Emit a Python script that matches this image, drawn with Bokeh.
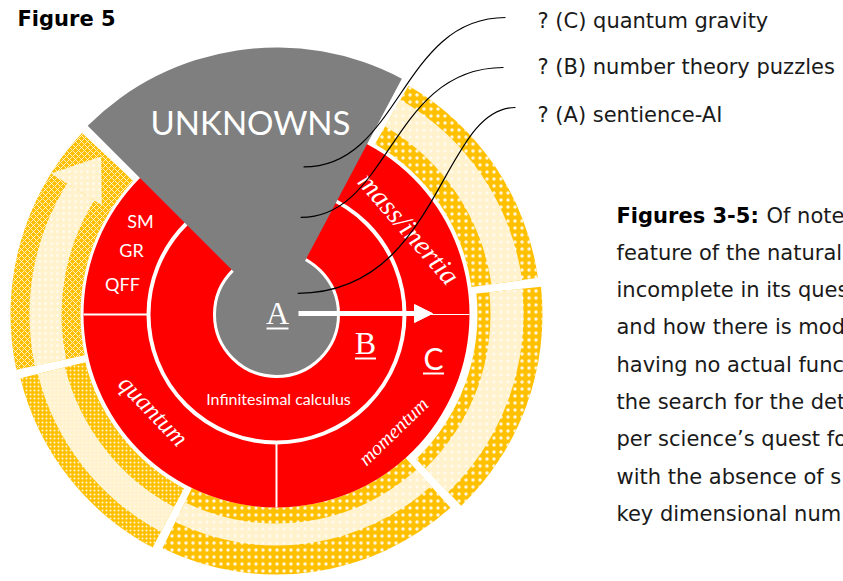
import numpy as np
from bokeh.plotting import figure
from bokeh.models import Range1d, Arrow, NormalHead
from bokeh.embed import file_html
from bokeh.resources import INLINE
from bokeh.core.properties import value

W, H = 843, 581
PAGE_H = 581


def Y(s):
    return PAGE_H - s


CX, CY = 276, Y(314)

# ---------------- data ----------------
ring_labels = ["A", "B", "C"]
ring_outer = [62, 128, 193]
unknown_span = [62, 135]
unknown_radius = 267
divider_angles = [180, 270]
yellow_start = [137, 194, 244, 314, 368]
yellow_end = [192, 242, 312, 366, 420]
yellow_inner = [196, 197, 193, 201, 197]
yellow_outer = [266, 264, 260, 266, 264]
light_inner = [215, 218, 209, 214, 217]
light_outer = [247, 246, 231, 247, 248]
yellow_hatch = ["diagonal_cross", "dot", "dot", "dot", "dot"]
yellow_scale = [6, 4, 7, 7, 7]

sector_texts = ["mass/inertia", "quantum", "momentum"]
sector_text_r = [158, 156, 165]
sector_text_ang = [33, 218, 315]
sector_text_rot = [-49, -46, 44]
sector_text_size = ["28px", "25px", "20px"]

theory_labels = ["SM", "GR", "QFF"]
unknown_labels = ["? (C) quantum gravity", "? (B) number theory puzzles", "? (A) sentience-AI"]
callout_r = [150, 100, 30]
callout_ang = [79.6, 76, 45]

caption_lines = [
    "feature of the natural",
    "incomplete in its ques",
    "and how there is mod",
    "having no actual func",
    "the search for the det",
    "per science\u2019s quest fo",
    "with the absence of s",
    "key dimensional num",
]

YELLOW = "#FFC000"
LIGHT = "#FFF2CC"
RED = "#FF0000"
GRAY = "#7F7F7F"


def pol(r, a):
    a = np.radians(a)
    return CX + r * np.cos(a), CY + r * np.sin(a)


p = figure(width=W, height=H, x_range=Range1d(0, W), y_range=Range1d(PAGE_H - H, PAGE_H),
           output_backend="svg", toolbar_location=None, x_axis_type=None, y_axis_type=None,
           min_border=0)
p.grid.visible = False
p.outline_line_color = None
p.background_fill_color = "white"
p.border_fill_color = "white"

# ---- yellow outer segments ----
for i in range(len(yellow_start)):
    p.annular_wedge(x=CX, y=CY, inner_radius=yellow_inner[i], outer_radius=yellow_outer[i],
                    start_angle=np.radians(yellow_start[i]), end_angle=np.radians(yellow_end[i]),
                    fill_color=YELLOW, line_color=None,
                    hatch_pattern=yellow_hatch[i], hatch_color="white", hatch_scale=yellow_scale[i],
                    hatch_weight=0.9, hatch_alpha=0.85)
    s0 = yellow_start[i] + (11 if i == 0 else 0)
    p.annular_wedge(x=CX, y=CY, inner_radius=light_inner[i], outer_radius=light_outer[i],
                    start_angle=np.radians(s0), end_angle=np.radians(yellow_end[i]),
                    fill_color=LIGHT, line_color=None,
                    hatch_pattern="dot", hatch_color="white", hatch_scale=yellow_scale[i],
                    hatch_weight=0.9, hatch_alpha=0.6)

# arrow head of the first (left) segment
hx0, hy0 = pol(206, yellow_start[0] + 11)
hx1, hy1 = pol(266, yellow_start[0] + 11)
hx2, hy2 = pol(236, yellow_start[0] + 1)
p.patch(x=[hx0, hx1, hx2], y=[hy0, hy1, hy2], fill_color=LIGHT, line_color=None,
        hatch_pattern="dot", hatch_color="white", hatch_scale=6, hatch_weight=0.9, hatch_alpha=0.6)

# ---- red rings ----
p.circle(x=CX, y=CY, radius=ring_outer[2], fill_color=RED, line_color=None)
p.circle(x=CX, y=CY, radius=ring_outer[1], fill_color=None, line_color="white", line_width=4)
for a in divider_angles:
    x0, y0 = pol(ring_outer[1], a)
    x1, y1 = pol(ring_outer[2], a)
    p.segment(x0=x0, y0=y0, x1=x1, y1=y1, line_color="white", line_width=2)
x0, y0 = pol(ring_outer[1], 0)
x1, y1 = pol(ring_outer[2], 0)
p.segment(x0=x0, y0=y0, x1=x1, y1=y1, line_color="white", line_width=1)

# ---- gray core + unknown wedge ----
p.circle(x=CX, y=CY, radius=ring_outer[0], fill_color=GRAY, line_color="white", line_width=3)
p.wedge(x=CX, y=CY, radius=unknown_radius, start_angle=np.radians(unknown_span[0]),
        end_angle=np.radians(unknown_span[1]), fill_color=GRAY, line_color=None)

# ---- arrow A -> C ----
p.add_layout(Arrow(end=NormalHead(size=18, fill_color="white", line_color="white"),
                   x_start=CX + 22, y_start=CY + 1, x_end=CX + 156, y_end=CY + 1,
                   line_color="white", line_width=5))

# ---- texts in the diagram ----
p.text(x=[250], y=[Y(121)], text=["UNKNOWNS"], text_font=value("Lato"), text_font_size="33px",
       text_color="white", text_align="center", text_baseline="middle")

tx = [140, 131, 122]
ty = [Y(220), Y(249), Y(283)]
p.text(x=tx, y=ty, text=theory_labels, text_font=value("Lato"), text_font_size="18px",
       text_color="white", text_align="center", text_baseline="middle")

p.text(x=[CX + 2], y=[Y(398)], text=["Infinitesimal calculus"], text_font=value("Lato"),
       text_font_size="16px", text_color="white", text_align="center", text_baseline="middle")

for t, r, a, rot, fs in zip(sector_texts, sector_text_r, sector_text_ang, sector_text_rot, sector_text_size):
    x, y = pol(r, a)
    p.text(x=[x], y=[y], text=[t], angle=np.radians(rot), text_font=value("Liberation Serif"),
           text_font_style="italic", text_font_size=fs, text_color="white",
           text_align="center", text_baseline="middle")

# ring letters
lab_x = [277, 365, 433]
lab_y = [Y(312), Y(342), Y(357)]
lab_font = ["Liberation Serif", "Liberation Serif", "Lato"]
lab_size = ["32px", "32px", "30px"]
for t, x, y, f, s, w in zip(ring_labels, lab_x, lab_y, lab_font, lab_size, [22, 21, 21]):
    p.text(x=[x], y=[y], text=[t], text_font=value(f), text_font_size=s, text_color="white",
           text_align="center", text_baseline="middle")
    p.segment(x0=x - w / 2, y0=y - 16, x1=x + w / 2, y1=y - 16, line_color="white", line_width=2)

# ---- callouts ----
lbl_y = [Y(20), Y(66), Y(114)]
start_x = [505, 503, 515]
start_y = [Y(17), Y(67), Y(107)]
ctrl_x = [400, 390, 440]
for i in range(3):
    ex, ey = pol(callout_r[i], callout_ang[i])
    p.bezier(x0=start_x[i], y0=start_y[i], x1=ex, y1=ey, cx0=ctrl_x[i], cy0=start_y[i],
             cx1=ctrl_x[i], cy1=ey, line_color="black", line_width=1.2)
p.text(x=[537] * 3, y=lbl_y, text=unknown_labels, text_font=value("DejaVu Sans"),
       text_font_size="21px", text_color="#1a1a1a", text_align="left", text_baseline="middle")

# ---- title + caption ----
p.text(x=[17], y=[Y(18)], text=["Figure 5"], text_font=value("DejaVu Sans"), text_font_style="bold",
       text_font_size="21px", text_color="black", text_align="left", text_baseline="middle")

p.text(x=[616], y=[Y(215)], text=["Figures 3-5:"], text_font=value("DejaVu Sans"),
       text_font_style="bold", text_font_size="21px", text_color="black",
       text_align="left", text_baseline="middle")
p.text(x=[766], y=[Y(215)], text=["Of note"], text_font=value("DejaVu Sans"),
       text_font_size="21px", text_color="#1a1a1a", text_align="left", text_baseline="middle")
cap_y = [Y(215 + 37.3 * (i + 1)) for i in range(len(caption_lines))]
p.text(x=[616] * len(caption_lines), y=cap_y, text=caption_lines, text_font=value("DejaVu Sans"),
       text_font_size="21px", text_color="#1a1a1a", text_align="left", text_baseline="middle")

open("out.html", "w").write(file_html(p, INLINE))
